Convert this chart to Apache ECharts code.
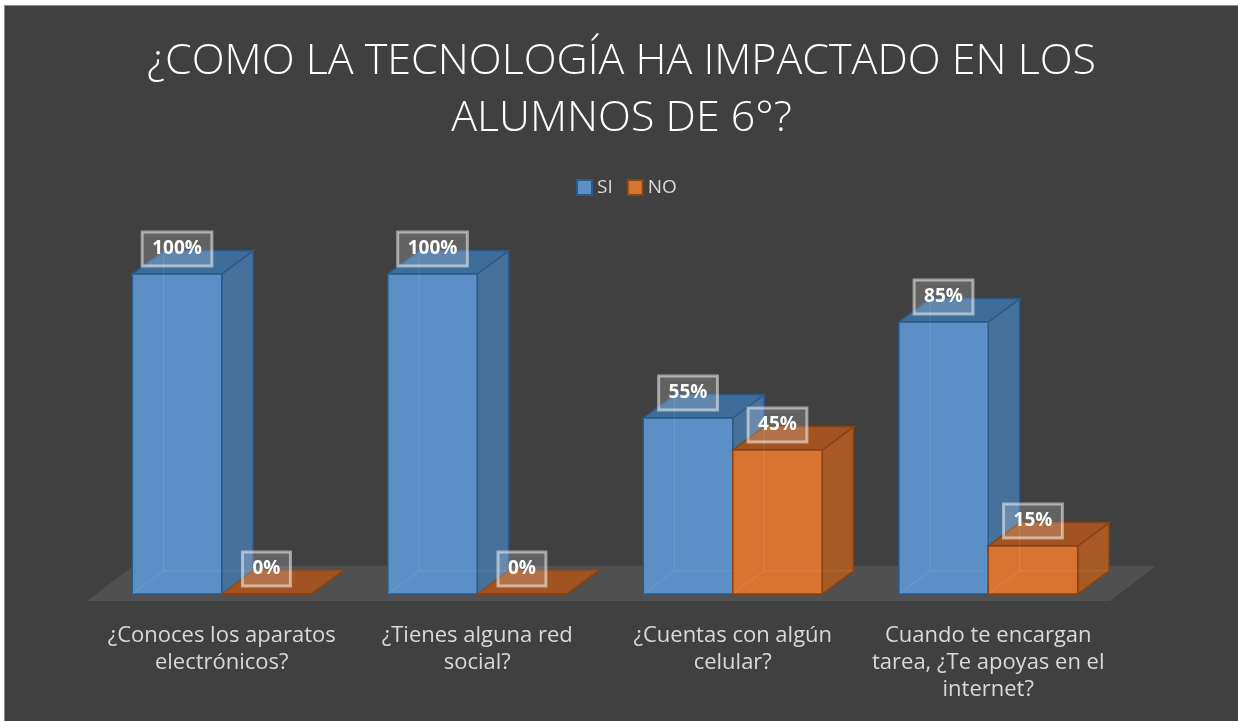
<!DOCTYPE html>
<html>
<head>
<meta charset="utf-8">
<title>Tecnología alumnos 6°</title>
<script src="https://cdn.jsdelivr.net/npm/echarts@6/dist/echarts.min.js"></script>
<style>
	body { margin: 0; background: #ffffff; }
	#frame { position: absolute; left: 4px; top: 5px; width: 1234px; height: 716px; border-left: 1px solid #8a8a8a; border-top: 1px solid #8a8a8a; box-sizing: border-box; background: #404040; }
	#chart { position: absolute; left: 5px; top: 6px; width: 1233px; height: 715px; }
</style>
</head>
<body>
<div id="frame"></div>
<div id="chart"></div>
<script>
/* datos */
var categorias = [
	"¿Conoces los aparatos\nelectrónicos?",
	"¿Tienes alguna red\nsocial?",
	"¿Cuentas con algún\ncelular?",
	"Cuando te encargan\ntarea, ¿Te apoyas en el\ninternet?"
];
var serieNombres = ["SI", "NO"];
var valoresSI = [100, 100, 55, 85];
var valoresNO = [0, 0, 45, 15];

/* colores de cada serie: frente, lado, arriba, borde */
var estilos = [
	{ front: "#5b8fc6", side: "#46719b", top: "#3f6d9a", edge: "#2b5a8b" },
	{ front: "#d87332", side: "#a85a25", top: "#a15421", edge: "#8b430f" }
];

/*
**功能:dibuja una barra 3D para la serie idx
*/
function barraRender(idx) {
	return function (params, api) {
		var cat = api.value(0), val = api.value(1);
		var base = api.coord([cat, 0]);
		var top = api.coord([cat, val]);
		var band = api.size([1, 0])[0];
		var w = band * 0.35;
		var dx = w * 0.35, dy = -dx * 0.74;
		var x0 = base[0] + (idx === 0 ? -w : 0);
		var x1 = x0 + w;
		var yb = base[1], yt = top[1];
		var c = estilos[idx];
		var edge = { stroke: c.edge, lineWidth: 1.5 };
		var faint = { stroke: "rgba(255,255,255,0.1)", lineWidth: 1, fill: "none" };
		return {
			type: "group",
			children: [
				{ type: "polygon", shape: { points: [[x1, yt], [x1 + dx, yt + dy], [x1 + dx, yb + dy], [x1, yb]] },
					style: Object.assign({ fill: c.side }, edge) },
				{ type: "polygon", shape: { points: [[x0, yt], [x0 + dx, yt + dy], [x1 + dx, yt + dy], [x1, yt]] },
					style: Object.assign({ fill: c.top }, edge) },
				{ type: "rect", shape: { x: x0, y: yt, width: w, height: yb - yt },
					style: Object.assign({ fill: c.front }, edge) },
				{ type: "line", shape: { x1: x0, y1: yb, x2: x0 + dx, y2: yb + dy }, style: faint },
				{ type: "line", shape: { x1: x0 + dx, y1: yb + dy, x2: x0 + dx, y2: yt + dy }, style: faint },
				{ type: "line", shape: { x1: x0 + dx, y1: yb + dy, x2: x1 + dx, y2: yb + dy }, style: faint },
				{ type: "text", x: x0 + w / 2, y: yt - 25,
					style: {
						text: val + "%", fill: "#ffffff", align: "center", verticalAlign: "middle",
						font: "bold 19px 'Open Sans', sans-serif",
						backgroundColor: "rgba(255,255,255,0.18)",
						borderColor: "rgba(255,255,255,0.5)", borderWidth: 1.5,
						padding: [8, 10, 7, 10]
					} }
			]
		};
	};
}

/*
**功能:piso gris debajo de las barras
*/
function pisoRender(params, api) {
	var cs = params.coordSys;
	var yf = cs.y + cs.height + 7;
	var xl = cs.x - 7, xr = cs.x + cs.width - 6;
	return {
		type: "polygon",
		shape: { points: [[xl, yf], [xl + 46, yf - 35], [xr + 46, yf - 35], [xr, yf]] },
		style: { fill: "#505050" }
	};
}

function datos(arr) {
	return arr.map(function (v, i) { return [i, v]; });
}

var myChart = echarts.init(document.getElementById("chart"));
myChart.setOption({
	backgroundColor: "#404040",
	animation: false,
	title: {
		text: "¿COMO LA TECNOLOGÍA HA IMPACTADO EN LOS\nALUMNOS DE 6°?",
		left: "center",
		top: 22,
		textStyle: { color: "#ffffff", fontFamily: "Open Sans", fontWeight: 300, fontSize: 43, lineHeight: 57, align: "center" }
	},
	legend: {
		data: serieNombres,
		top: 167,
		left: 566,
		icon: "rect",
		itemWidth: 15,
		itemHeight: 15,
		itemGap: 14,
		textStyle: { color: "#d9d9d9", fontFamily: "Open Sans", fontSize: 19 }
	},
	grid: { left: 89, right: 122, top: 268, bottom: 127 },
	xAxis: {
		type: "category",
		data: categorias,
		axisLine: { show: false },
		axisTick: { show: false },
		axisLabel: { color: "#d9d9d9", fontFamily: "Open Sans", fontSize: 22, lineHeight: 27, margin: 28, interval: 0 }
	},
	yAxis: { type: "value", min: 0, max: 100, show: false, splitLine: { show: false } },
	series: [
		{ type: "custom", name: "piso", z: 1, renderItem: pisoRender, data: [[0, 0]], silent: true },
		{ type: "custom", name: serieNombres[0], z: 2, renderItem: barraRender(0), data: datos(valoresSI),
			itemStyle: { color: estilos[0].front, borderColor: estilos[0].edge, borderWidth: 1 } },
		{ type: "custom", name: serieNombres[1], z: 3, renderItem: barraRender(1), data: datos(valoresNO),
			itemStyle: { color: estilos[1].front, borderColor: estilos[1].edge, borderWidth: 1 } }
	]
});
</script>
</body>
</html>
